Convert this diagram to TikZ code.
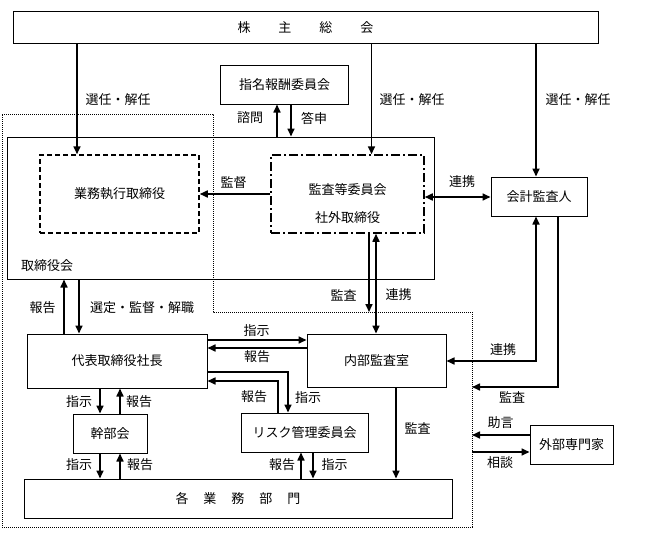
\documentclass[tikz,border=0pt]{standalone}
\usepackage{fontspec}
\newfontfamily\jp{Noto Sans CJK JP}
\usetikzlibrary{arrows.meta}
\begin{document}
\begin{tikzpicture}[x=1pt,y=-1pt,
  every node/.style={font=\jp\fontsize{13pt}{15pt}\selectfont, inner sep=0pt},
  box/.style={draw, line width=1pt},
  dbox/.style={draw, line width=1.5pt, dash pattern=on 5pt off 3pt},
  ddbox/.style={draw, line width=1.5pt, dash pattern=on 9pt off 3pt on 2pt off 3pt},
  tip/.tip={Triangle[length=8pt,width=7pt]},
  arr/.style={line width=1.6pt, -tip},
  darr/.style={line width=1.6pt, tip-tip},
  bound/.style={line width=1pt, dash pattern=on 1pt off 1pt}]
\useasboundingbox (0,0) rectangle (645,543);

% dotted boundary
\coordinate (b1) at (2,114);
\coordinate (b2) at (213,114);
\coordinate (b3) at (213,312);
\coordinate (b4) at (472,312);
\coordinate (b5) at (472,527);
\coordinate (b6) at (2,527);
\draw[bound] (b1) -- (b2) -- (b3) -- (b4) -- (b5) -- (b6) -- cycle;

% boxes
\node[box, minimum width=585pt, minimum height=32pt] (sh) at (305.5,28) {株\hspace{28pt}主\hspace{28pt}総\hspace{28pt}会};
\node[box, minimum width=128pt, minimum height=38pt] (nom) at (284.5,85) {指名報酬委員会};
\node[box, minimum width=427pt, minimum height=142pt] (board) at (220.5,208) {};
\node[dbox, minimum width=159pt, minimum height=78pt] (exec) at (119.5,194) {業務執行取締役};
\node[ddbox, minimum width=153pt, minimum height=78pt] (audit) at (347.5,194) {};
\node (auditA) at (347.5,190) {監査等委員会};
\node (auditB) at (347.5,218) {社外取締役};
\node (boardlab) at (47,266) {取締役会};
\node[box, minimum width=96pt, minimum height=39pt] (auditor) at (539,196.5) {会計監査人};
\node[box, minimum width=180pt, minimum height=54pt] (pres) at (117,361) {代表取締役社長};
\node[box, minimum width=139pt, minimum height=53pt] (ia) at (376.5,360.5) {内部監査室};
\node[box, minimum width=74pt, minimum height=39pt] (kanbu) at (110,433.5) {幹部会};
\node[box, minimum width=127pt, minimum height=39pt] (risk) at (304.5,432.5) {リスク管理委員会};
\node[box, minimum width=428pt, minimum height=39pt] (div) at (238,498.5) {各\hspace{15pt}業\hspace{15pt}務\hspace{15pt}部\hspace{15pt}門};
\node[box, minimum width=83pt, minimum height=39pt] (ext) at (571.5,444.5) {外部専門家};

% helper coordinates
\coordinate (x64) at (64,0);
\coordinate (x77) at (77,0);
\coordinate (x79) at (79,0);
\coordinate (x100) at (100,0);
\coordinate (x120) at (120,0);
\coordinate (x277) at (277,0);
\coordinate (x278) at (278,0);
\coordinate (x288) at (288,0);
\coordinate (x291) at (291,0);
\coordinate (x301) at (301,0);
\coordinate (x313) at (313,0);
\coordinate (x369) at (369,0);
\coordinate (x371) at (371.5,0);
\coordinate (x376) at (376,0);
\coordinate (x396) at (396,0);
\coordinate (x536) at (536,0);
\coordinate (x558) at (558,0);
\coordinate (y340) at (0,340);
\coordinate (y348) at (0,348);
\coordinate (y361) at (0,361);
\coordinate (y372) at (0,372);
\coordinate (y381) at (0,381);
\coordinate (y387) at (0,387);
\coordinate (y435) at (0,435);
\coordinate (y452) at (0,452);
\coordinate (y197) at (0,197);

% connectors
\draw[arr] (sh.south -| x77) -- (exec.north -| x77);
\draw[arr] (sh.south -| x371) -- (audit.north -| x371);
\draw[arr] (sh.south -| x536) -- (auditor.north -| x536);
\draw[arr] (board.north -| x277) -- (nom.south -| x277);
\draw[arr] (nom.south -| x291) -- (board.north -| x291);
\draw[arr] (audit.west) -- (exec.east);
\draw[darr] (audit.east |- y197) -- (auditor.west |- y197);
\draw[arr] (pres.north -| x64) -- (board.south -| x64);
\draw[arr] (board.south -| x79) -- (pres.north -| x79);
\draw[arr] (audit.south -| x369) -- (b3 -| x369);
\draw[darr] (audit.south -| x376) -- (ia.north -| x376);
\draw[arr] (pres.east |- y340) -- (ia.west |- y340);
\draw[arr] (ia.west |- y348) -- (pres.east |- y348);
\draw[arr] (pres.east |- y372) -| (risk.north -| x288);
\draw[arr] (risk.north -| x278) |- (pres.east |- y381);
\draw[arr] (pres.south -| x100) -- (kanbu.north -| x100);
\draw[arr] (kanbu.north -| x120) -- (pres.south -| x120);
\draw[arr] (kanbu.south -| x100) -- (div.north -| x100);
\draw[arr] (div.north -| x120) -- (kanbu.south -| x120);
\draw[arr] (div.north -| x301) -- (risk.south -| x301);
\draw[arr] (risk.south -| x313) -- (div.north -| x313);
\draw[arr] (ia.south -| x396) -- (div.north -| x396);
\draw[darr] (ia.east |- y361) -| (auditor.south -| x536);
\draw[arr] (auditor.south -| x558) |- (b5 |- y387);
\draw[arr] (ext.west |- y435) -- (b5 |- y435);
\draw[arr] (b5 |- y452) -- (ext.west |- y452);

% labels
\node (l1) at (118,100) {選任・解任};
\node (l2) at (412,100) {選任・解任};
\node (l3) at (578,100) {選任・解任};
\node (l4) at (250,118) {諮問};
\node (l5) at (314,118) {答申};
\node (l6) at (233.5,183) {監督};
\node (l7) at (462,182) {連携};
\node (l8) at (42.5,308) {報告};
\node (l9) at (142,308) {選定・監督・解職};
\node (l10) at (343.5,295) {監査};
\node (l11) at (398.5,295) {連携};
\node (l12) at (256.5,331) {指示};
\node (l13) at (257,357) {報告};
\node (l14) at (254,397) {報告};
\node (l15) at (308,398) {指示};
\node (l16) at (79,402) {指示};
\node (l17) at (139,402) {報告};
\node (l18) at (79,465) {指示};
\node (l19) at (140,465) {報告};
\node (l20) at (282,465) {報告};
\node (l21) at (334.5,465) {指示};
\node (l22) at (417.5,428) {監査};
\node (l23) at (503,350) {連携};
\node (l24) at (512,397) {監査};
\node (l25) at (500.5,423) {助言};
\node (l26) at (500,463) {相談};
\end{tikzpicture}
\end{document}
